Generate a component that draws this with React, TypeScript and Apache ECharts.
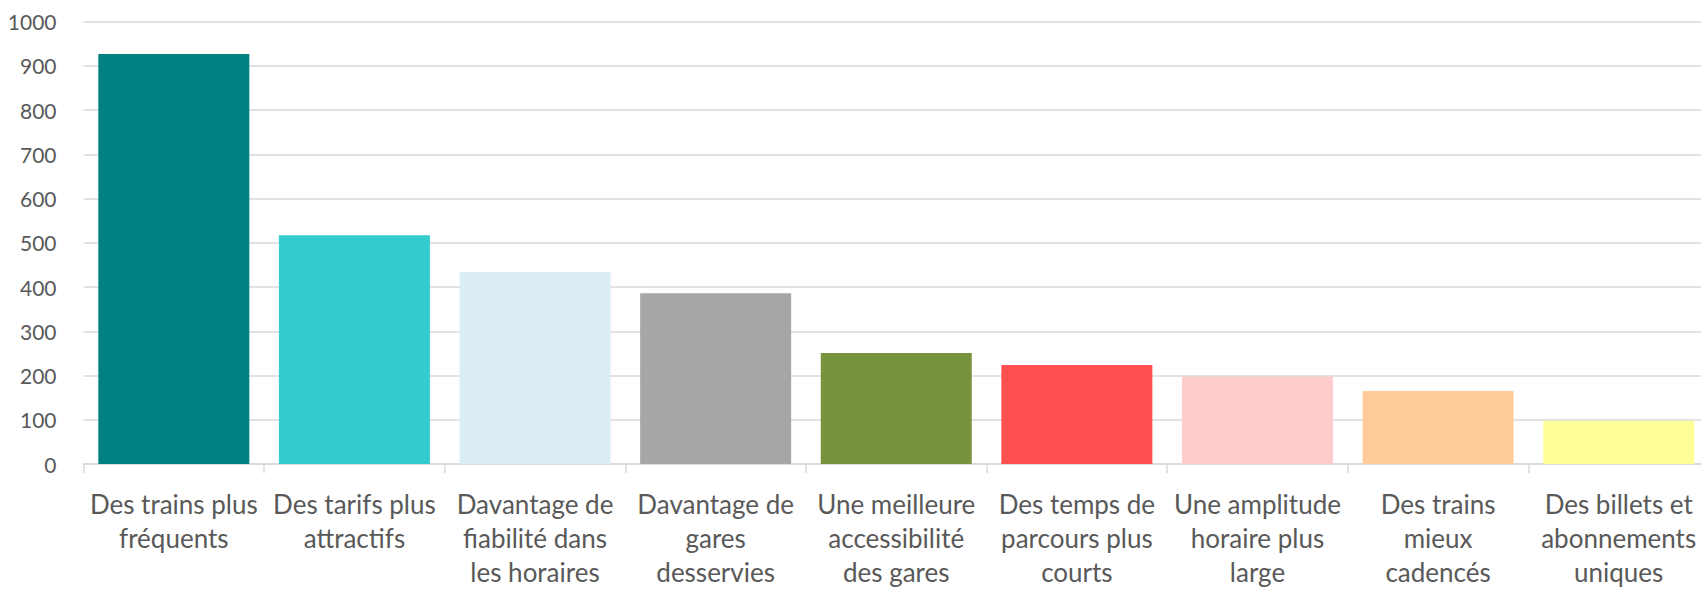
import React, { useEffect, useRef } from "react";
import * as echarts from "echarts";

const categories = [
  "Des trains plus\nfréquents",
  "Des tarifs plus\nattractifs",
  "Davantage de\nfiabilité dans\nles horaires",
  "Davantage de\ngares\ndesservies",
  "Une meilleure\naccessibilité\ndes gares",
  "Des temps de\nparcours plus\ncourts",
  "Une amplitude\nhoraire plus\nlarge",
  "Des trains\nmieux\ncadencés",
  "Des billets et\nabonnements\nuniques",
];
const values = [927, 517, 434, 386, 251, 224, 198, 165, 98];
const colors = [
  "#008080",
  "#33CCCC",
  "#DAEEF3",
  "#A6A6A6",
  "#77933C",
  "#FF5050",
  "#FFCCCC",
  "#FFCC99",
  "#FFFF99",
];

export default function App() {
  const ref = useRef<HTMLDivElement>(null);
  useEffect(() => {
    if (!ref.current) return;
    const chart = echarts.init(ref.current, undefined, { renderer: "svg" });
    chart.setOption({
      animation: false,
      grid: { left: 83.5, top: 21.7, bottom: 123.6, right: 11, containLabel: false },
      xAxis: {
        type: "category",
        data: categories,
        axisLine: { lineStyle: { color: "#D9D9D9", width: 1.5 } },
        axisTick: { show: true, length: 9, lineStyle: { color: "#D9D9D9", width: 1.5 } },
        axisLabel: {
          interval: 0,
          color: "#595959",
          fontFamily: "Lato",
          fontSize: 26,
          lineHeight: 34,
          margin: 23,
          align: "center",
        },
      },
      yAxis: {
        type: "value",
        min: 0,
        max: 1000,
        interval: 100,
        axisLine: { show: false },
        axisTick: { show: false },
        splitLine: { lineStyle: { color: "#D9D9D9", width: 1.5 } },
        axisLabel: {
          color: "#595959",
          fontFamily: "Lato",
          fontSize: 21,
          margin: 27,
          formatter: (v: number) => String(v),
        },
      },
      series: [
        {
          type: "bar",
          data: values.map((v, i) => ({ value: v, itemStyle: { color: colors[i] } })),
          barCategoryGap: "16.4%",
        },
      ],
    });
    return () => chart.dispose();
  }, []);
  return (
    <div
      style={{
        position: "absolute",
        left: 0,
        top: 0,
        width: 1701,
        height: 589,
        overflow: "hidden",
        background: "#fff",
      }}
    >
      <div ref={ref} style={{ width: 1720, height: 589 }} />
    </div>
  );
}
